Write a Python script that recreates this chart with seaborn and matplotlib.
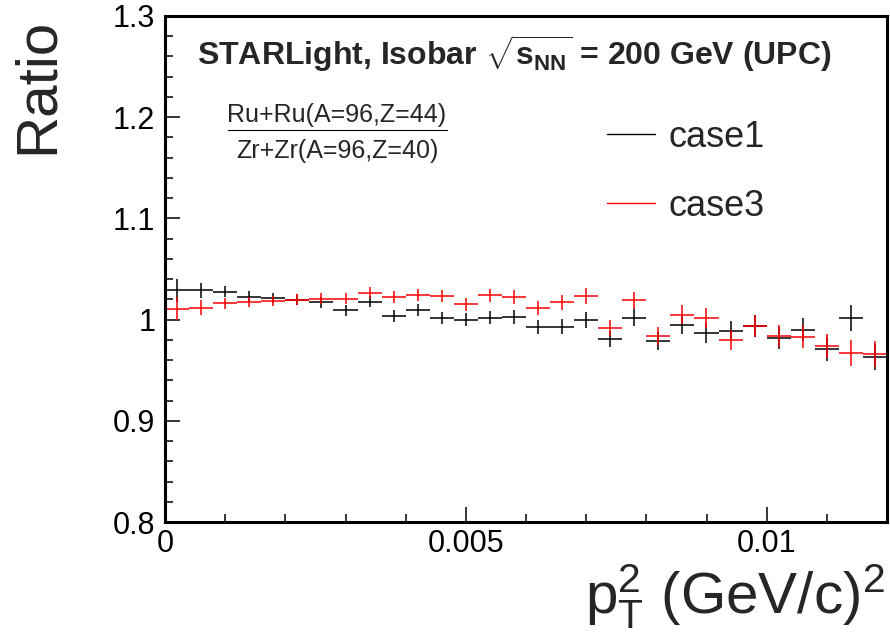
#!/usr/bin/env python3
"""Ru+Ru / Zr+Zr ratio vs pT^2 from STARLight (isobar UPC)."""

import matplotlib.pyplot as plt
import matplotlib.ticker as ticker
import seaborn as sns
from matplotlib.lines import Line2D

# pT^2 bin centres, (GeV/c)^2, bin width 0.0004
PT2 = [0.0002, 0.0006, 0.0010, 0.0014, 0.0018, 0.0022, 0.0026, 0.0030,
       0.0034, 0.0038, 0.0042, 0.0046, 0.0050, 0.0054, 0.0058, 0.0062,
       0.0066, 0.0070, 0.0074, 0.0078, 0.0082, 0.0086, 0.0090, 0.0094,
       0.0098, 0.0102, 0.0106, 0.0110, 0.0114, 0.0118]
HALF_BIN = 0.0002

CASE1 = [1.029, 1.029, 1.0277, 1.0228, 1.0212, 1.0198, 1.0172, 1.009,
         1.0178, 1.0034, 1.0093, 1.0017, 1.000, 1.0017, 1.0024, 0.9928,
         0.9928, 1.000, 0.981, 1.0017, 0.979, 0.995, 0.987, 0.989,
         0.9938, 0.982, 0.990, 0.971, 1.0017, 0.963]
CASE3 = [1.0109, 1.0116, 1.0162, 1.0175, 1.0188, 1.0198, 1.0208, 1.0208,
         1.0265, 1.0222, 1.024, 1.023, 1.015, 1.024, 1.0225, 1.0116,
         1.017, 1.023, 0.9918, 1.019, 0.984, 1.005, 1.0017, 0.980,
         0.9938, 0.9835, 0.983, 0.9737, 0.967, 0.9663]
ERR = [0.0115, 0.0075, 0.0055, 0.005, 0.005, 0.0055, 0.0055, 0.0055,
       0.0055, 0.006, 0.006, 0.006, 0.0065, 0.0065, 0.007, 0.007,
       0.0075, 0.008, 0.008, 0.0085, 0.009, 0.0095, 0.0098, 0.010,
       0.0105, 0.011, 0.0115, 0.012, 0.0125, 0.013]

SERIES = {"case1": (CASE1, "black"), "case3": (CASE3, "red")}

W, H = 890, 637


def setup_style():
    sns.set_theme(style="ticks")
    plt.rcParams["font.family"] = ["Liberation Sans", "DejaVu Sans"]
    plt.rcParams["mathtext.fontset"] = "custom"
    plt.rcParams["mathtext.rm"] = "Liberation Sans"
    plt.rcParams["mathtext.it"] = "Liberation Sans"
    plt.rcParams["mathtext.bf"] = "Liberation Sans:bold"
    plt.rcParams["mathtext.default"] = "regular"


def main():
    setup_style()
    fig = plt.figure(figsize=(W / 100, H / 100), dpi=100)
    ax = fig.add_axes([165 / W, 1 - 522 / H, (887 - 165) / W, (522 - 16) / H])

    for name, (vals, color) in SERIES.items():
        ax.errorbar(PT2, vals, xerr=HALF_BIN, yerr=ERR, fmt="none",
                    ecolor=color, elinewidth=1.1, capsize=0)

    ax.set_xlim(0, 0.012)
    ax.set_ylim(0.8, 1.3)
    ax.xaxis.set_major_locator(ticker.MultipleLocator(0.005))
    ax.xaxis.set_minor_locator(ticker.MultipleLocator(0.001))
    ax.yaxis.set_major_locator(ticker.MultipleLocator(0.1))
    ax.yaxis.set_minor_locator(ticker.MultipleLocator(0.02))
    fmt = ticker.FuncFormatter(lambda v, _: f"{v:g}")
    ax.xaxis.set_major_formatter(fmt)
    ax.yaxis.set_major_formatter(fmt)
    ax.tick_params(which="both", direction="in", top=False, right=False,
                   width=1.1, colors="black", labelsize=22)
    ax.tick_params(which="major", length=11, pad=7)
    ax.tick_params(axis="x", which="major", pad=5)
    ax.tick_params(which="minor", length=5.5)
    for sp in ax.spines.values():
        sp.set_visible(True)
        sp.set_linewidth(2.2)
        sp.set_color("black")

    # axis titles, ROOT-style placement
    fig.text(38 / W, 1 - 18 / H, "Ratio", rotation=90, ha="center",
             va="top", fontsize=42)
    fig.text(885 / W, 1 - 614 / H, r"$p_{T}^{2}$ (GeV/c)$^{2}$",
             ha="right", va="baseline", fontsize=42)

    fig.text(197 / W, 1 - 65 / H,
             r"STARLight, Isobar $\sqrt{s_{NN}}$ = 200 GeV (UPC)",
             ha="left", va="baseline", fontsize=23, fontweight="bold")

    # Ru+Ru / Zr+Zr fraction
    fig.text(337 / W, 1 - 122 / H, "Ru+Ru(A=96,Z=44)", ha="center",
             va="baseline", fontsize=18)
    fig.text(337 / W, 1 - 158 / H, "Zr+Zr(A=96,Z=40)", ha="center",
             va="baseline", fontsize=18)
    fig.add_artist(Line2D([228 / W, 447 / W], [1 - 130 / H, 1 - 130 / H],
                          transform=fig.transFigure, color="black", lw=0.8))

    handles = [Line2D([], [], color=c, lw=1.0) for _, c in SERIES.values()]
    ax.legend(handles, list(SERIES.keys()), loc="upper left",
              bbox_to_anchor=(607 / W, 1 - 120 / H),
              bbox_transform=fig.transFigure, frameon=False, fontsize=26,
              handlelength=1.33, handletextpad=0.36, labelspacing=0.94,
              borderpad=0, borderaxespad=0)

    fig.savefig("out.png", dpi=100)
    plt.close(fig)


if __name__ == "__main__":
    main()
